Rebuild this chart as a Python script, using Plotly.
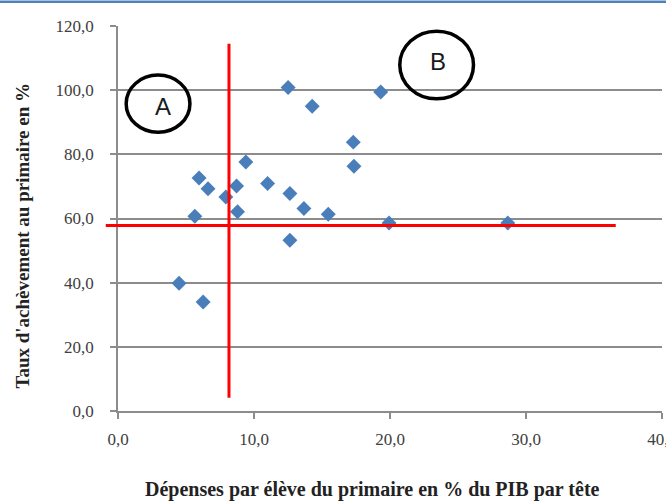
import plotly.graph_objects as go

# Data
depenses = [4.49, 6.26, 5.65, 5.96, 6.62, 7.93, 8.72, 8.79, 9.40, 11.0, 12.64,
            12.64, 12.51, 14.28, 13.67, 15.46, 17.30, 17.35, 19.32, 19.93, 28.66]
achevement = [39.8, 34.0, 60.7, 72.6, 69.3, 66.7, 70.1, 62.1, 77.6, 70.9, 67.8,
              53.2, 100.8, 95.0, 63.1, 61.3, 83.8, 76.3, 99.4, 58.6, 58.6]

# Reference (threshold) lines
seuil_x = 8.16            # vertical line at x
seuil_x_span = [4.1, 114.5]
seuil_y = 57.85           # horizontal line at y
seuil_y_span = [-0.9, 36.6]

# Zone labels (ellipse bounds in data units and label positions)
zones = ["A", "B"]
zone_x0 = [0.60, 20.72]
zone_x1 = [5.29, 26.14]
zone_y0 = [86.9, 97.3]
zone_y1 = [104.7, 118.4]
zone_lx = [3.31, 23.55]
zone_ly = [95.0, 109.0]

x_range = [0, 40]
y_range = [0, 120]
x_ticks = [0, 10, 20, 30, 40]
y_ticks = [0, 20, 40, 60, 80, 100, 120]

GRAY = "#8c8c8c"
SERIF = "Liberation Serif"

fig = go.Figure()
fig.add_trace(go.Scatter(
    x=depenses, y=achevement, mode="markers",
    marker=dict(symbol="diamond", size=11.5, color="#4a7ebb"),
    cliponaxis=False, showlegend=False))

shapes = []
# vertical red line
shapes.append(dict(type="line", xref="x", yref="y", x0=seuil_x, x1=seuil_x,
                   y0=seuil_x_span[0], y1=seuil_x_span[1],
                   line=dict(color="#ff0000", width=3)))
# horizontal red line (extends slightly left of the y axis)
def xdom(v):
    return (v - x_range[0]) / (x_range[1] - x_range[0])
shapes.append(dict(type="line", xref="x domain", yref="y",
                   x0=xdom(seuil_y_span[0]), x1=xdom(seuil_y_span[1]),
                   y0=seuil_y, y1=seuil_y,
                   line=dict(color="#ff0000", width=3)))
for i in range(len(zones)):
    shapes.append(dict(type="circle", xref="x", yref="y",
                       x0=zone_x0[i], x1=zone_x1[i], y0=zone_y0[i], y1=zone_y1[i],
                       line=dict(color="#000000", width=3.5)))
# blue frame line at top of the picture
shapes.append(dict(type="rect", xref="paper", yref="paper", x0=-0.25, x1=1.02,
                   y0=1 + 23.0 / 385, y1=1 + 25.5 / 385,
                   fillcolor="#4f81bd", line=dict(width=0)))

annotations = []
for i in range(len(zones)):
    annotations.append(dict(x=zone_lx[i], y=zone_ly[i], xref="x", yref="y",
                            text=zones[i], showarrow=False,
                            font=dict(family="Liberation Sans, Arial, sans-serif",
                                      size=24, color="#1a1a1a")))
annotations.append(dict(x=-0.1756, y=0.457, xref="paper", yref="paper",
                        text="<b>Taux d'achèvement au primaire en %</b>",
                        textangle=-90, showarrow=False,
                        xanchor="center", yanchor="middle",
                        font=dict(family=SERIF, size=19, color="#222222")))
annotations.append(dict(x=0.467, y=-0.205, xref="paper", yref="paper",
                        text="<b>Dépenses par élève du primaire en % du PIB par tête</b>",
                        showarrow=False, xanchor="center", yanchor="middle",
                        font=dict(family=SERIF, size=20, color="#222222")))

fig.update_layout(
    width=666, height=502,
    margin=dict(l=118, r=4, t=26, b=91, autoexpand=False),
    plot_bgcolor="white", paper_bgcolor="white",
    separators=", ",
    shapes=shapes, annotations=annotations,
    xaxis=dict(range=x_range, tickvals=x_ticks, tickformat=".1f",
               automargin=False,
               showgrid=False, zeroline=False, showline=True,
               linecolor=GRAY, linewidth=1.5,
               ticks="outside", ticklen=6, tickcolor=GRAY, tickwidth=1.5,
               ticklabelstandoff=6, ticklabeloverflow="allow",
               tickfont=dict(family=SERIF, size=17, color="#404040")),
    yaxis=dict(range=y_range, tickvals=y_ticks, tickformat=".1f",
               automargin=False,
               showgrid=True, gridcolor=GRAY, gridwidth=1.5,
               zeroline=False, showline=True,
               linecolor=GRAY, linewidth=1.5,
               ticks="outside", ticklen=6, tickcolor=GRAY, tickwidth=1.5,
               ticklabelstandoff=13,
               tickfont=dict(family=SERIF, size=17, color="#404040")),
)

fig.write_html("out.html",
               config={"displayModeBar": False},
               post_script="document.body.style.margin='0';document.body.style.overflow='hidden';")
